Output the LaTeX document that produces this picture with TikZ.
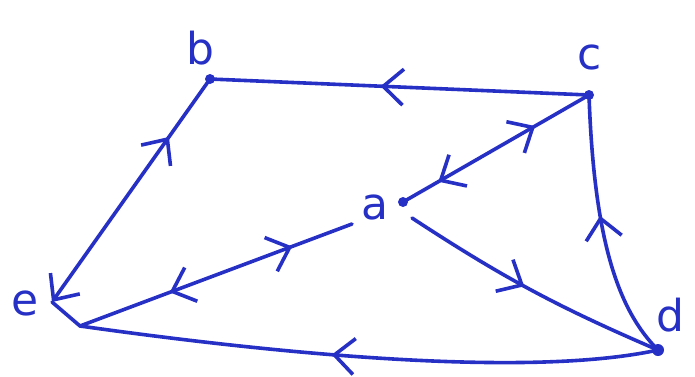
\documentclass[tikz,border=0pt]{standalone}
\usepackage{fontspec}
\newfontfamily\hand{DejaVu Sans}
\usetikzlibrary{arrows.meta,decorations.markings}
\definecolor{ink}{RGB}{38,48,196}
\tikzset{
  edge/.style={draw=ink, line width=3.6pt, line cap=round, line join=round},
  barb/.tip={Straight Barb[length=20pt,width=36pt,line width=3.6pt]},
  fwd/.style={postaction={decorate},decoration={markings,mark=at position #1 with {\arrow{barb}}}},
  both/.style 2 args={postaction={decorate},decoration={markings,
      mark=at position #1 with {\arrowreversed{barb}},
      mark=at position #2 with {\arrow{barb}}}},
  dot/.style={circle, fill=ink, inner sep=0pt, minimum size=10pt},
  lbl/.style={text=ink, font=\hand\fontsize{44}{44}\selectfont, inner sep=0pt}
}
\begin{document}
\begin{tikzpicture}[x=1pt,y=-1pt]
  \useasboundingbox (0,0) rectangle (695,376);
  % vertices
  \node[dot] (b) at (210,79) {};
  \node[dot] (c) at (589,95) {};
  \node[dot] (a) at (403,202) {};
  \node[dot, minimum size=12pt] (d) at (658,350) {};
  \coordinate (e) at (52,302);
  \coordinate (ej) at (80,326);
  \coordinate (aw) at (352,224);
  \coordinate (ae) at (412,218);
  % labels
  \node[lbl] (lb) at (200,48) {b};
  \node[lbl] (lc) at (590,57) {c};
  \node[lbl] (la) at (375,207) {a};
  \node[lbl] (ld) at (670,315) {d};
  \node[lbl] (le) at (25,303) {e};
  % edges
  \draw[edge, fwd=0.55] (c.center) -- (b.center);
  \draw[edge, {barb}-, fwd=0.74] (e) -- (b.center);
  \draw[edge, both={0.19}{0.71}] (a.center) -- (c.center);
  \draw[edge, both={0.22}{0.67}] (aw) -- (ej);
  \draw[edge, fwd=0.47] (ae) to[bend right=5] (d.center);
  \draw[edge, fwd=0.55] (d.center) .. controls (618,310) and (594,240) .. (c.center);
  \draw[edge, fwd=0.53] (d.center) .. controls (520,380) and (250,350) .. (ej) -- (e);
\end{tikzpicture}
\end{document}
